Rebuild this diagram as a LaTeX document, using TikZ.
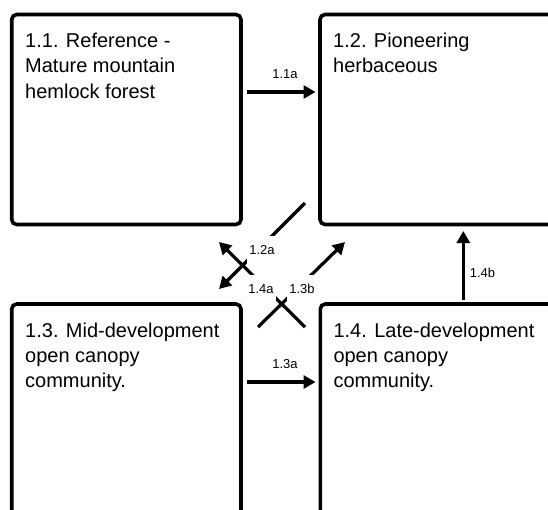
\documentclass[tikz,border=0pt]{standalone}
\usepackage{fontspec}
\setmainfont{Liberation Sans}
\usetikzlibrary{arrows.meta}
\begin{document}
\begin{tikzpicture}[x=1pt,y=-1pt,
  box/.style={draw=black, line width=3.6pt, rounded corners=5pt, inner sep=0pt, outer sep=0pt},
  boxtext/.style={anchor=north west, inner sep=0pt, align=left, font=\fontsize{20}{25.3}\selectfont},
  arr/.style={line width=3.2pt, -{Triangle[length=12pt,width=13pt]}},
  lbl/.style={font=\fontsize{13}{15}\selectfont, inner sep=0pt},
  cut/.style={lbl, fill=white, minimum width=30pt, minimum height=28pt}]
\useasboundingbox (0,0) rectangle (548,509);
\clip (0,0) rectangle (548,509);
% boxes
\node[box, minimum width=229.3pt, minimum height=210pt] (b11) at (126.35,119.5) {};
\node[box, minimum width=300pt, minimum height=210pt] (b12) at (470,119.5) {};
\node[box, minimum width=229.3pt, minimum height=300pt] (b13) at (126.35,454) {};
\node[box, minimum width=300pt, minimum height=300pt] (b14) at (470.3,454) {};
% texts
\node[boxtext] (t11) at ([shift={(13.3,18.4)}]b11.north west) {1.1. Reference -\\Mature mountain\\hemlock forest};
\node[boxtext] (t12) at ([shift={(13,18.4)}]b12.north west) {1.2. Pioneering\\herbaceous};
\node[boxtext] (t13) at ([shift={(13.3,18.4)}]b13.north west) {1.3. Mid-development\\open canopy\\community.};
\node[boxtext] (t14) at ([shift={(13,18.4)}]b14.north west) {1.4. Late-development\\open canopy\\community.};
% arrow end points
\coordinate (s11a) at (247,92);
\coordinate (e11a) at (315.5,92);
\coordinate (s13a) at (247,382);
\coordinate (e13a) at (315.5,382);
\coordinate (s14b) at (463.3,300);
\coordinate (e14b) at (463.3,231);
\coordinate (s12a) at (305,203);
\coordinate (e12a) at (219,289);
\coordinate (s14a) at (305,327);
\coordinate (e14a) at (219,242);
\coordinate (s13b) at (258,327);
\coordinate (e13b) at (345,242);
% arrows
\draw[arr] (s11a) -- (e11a);
\draw[arr] (s13a) -- (e13a);
\draw[arr] (s14b) -- (e14b);
\draw[arr] (s12a) -- (e12a);
\draw[arr] (s14a) -- (e14a);
\draw[arr] (s13b) -- (e13b);
% labels
\node[lbl] (l11a) at (285,74) {1.1a};
\node[lbl] (l13a) at (285,364) {1.3a};
\node[lbl] (l14b) at (482.5,272.5) {1.4b};
\node[cut] (l12a) at (262,250) {1.2a};
\node[cut] (l14a) at (261,289) {1.4a};
\node[cut] (l13b) at (302,289) {1.3b};
\end{tikzpicture}
\end{document}
